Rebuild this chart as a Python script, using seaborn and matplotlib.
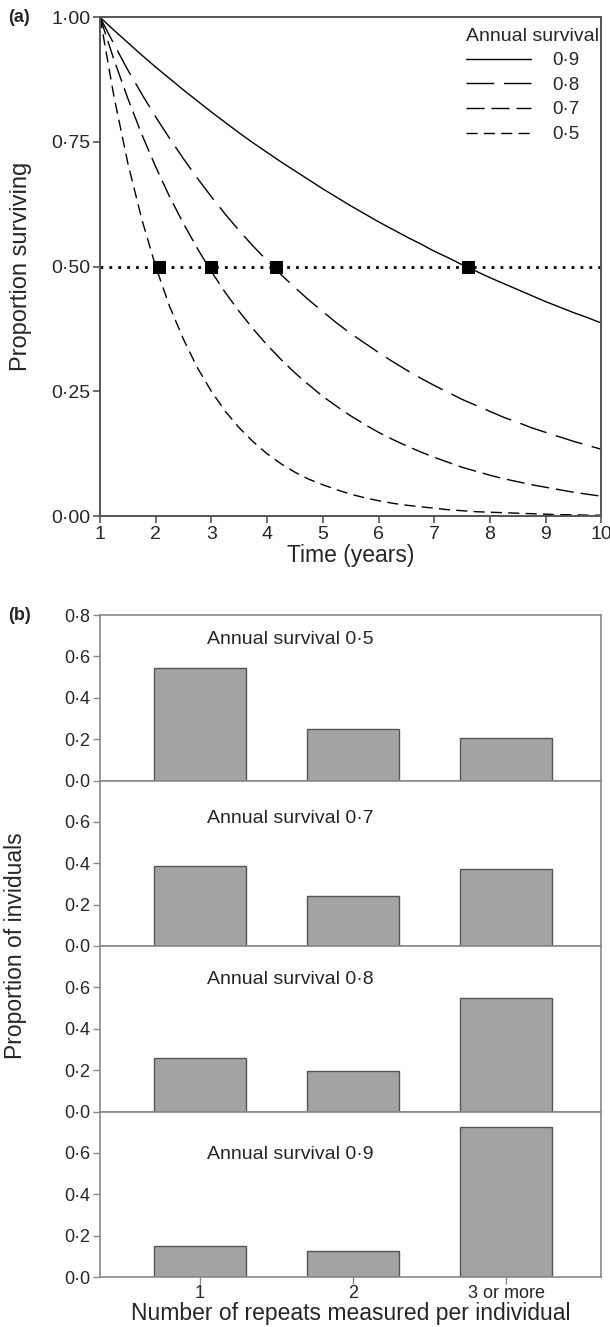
import seaborn as sns
import matplotlib.pyplot as plt
from matplotlib.ticker import FuncFormatter

# ---- panel (a): proportion surviving, read at quarter-year steps ----
years = [1.0, 1.25, 1.5, 1.75, 2.0, 2.25, 2.5, 2.75, 3.0, 3.25,
         3.5, 3.75, 4.0, 4.25, 4.5, 4.75, 5.0, 5.25, 5.5, 5.75,
         6.0, 6.25, 6.5, 6.75, 7.0, 7.25, 7.5, 7.75, 8.0, 8.25,
         8.5, 8.75, 9.0, 9.25, 9.5, 9.75, 10.0]
surv_09 = [1.000, 0.974, 0.949, 0.924, 0.900, 0.877, 0.854, 0.832, 0.810, 0.789,
           0.768, 0.748, 0.729, 0.710, 0.692, 0.674, 0.656, 0.639, 0.622, 0.606,
           0.590, 0.575, 0.560, 0.546, 0.531, 0.518, 0.504, 0.491, 0.478, 0.466,
           0.454, 0.442, 0.430, 0.419, 0.408, 0.398, 0.387]
surv_08 = [1.000, 0.946, 0.894, 0.846, 0.800, 0.757, 0.716, 0.677, 0.640, 0.605,
           0.572, 0.541, 0.512, 0.484, 0.458, 0.433, 0.410, 0.387, 0.366, 0.347,
           0.328, 0.310, 0.293, 0.277, 0.262, 0.248, 0.234, 0.222, 0.210, 0.198,
           0.188, 0.177, 0.168, 0.159, 0.150, 0.142, 0.134]
surv_07 = [1.000, 0.915, 0.837, 0.765, 0.700, 0.640, 0.586, 0.536, 0.490, 0.448,
           0.410, 0.375, 0.343, 0.314, 0.287, 0.263, 0.240, 0.220, 0.201, 0.184,
           0.168, 0.154, 0.141, 0.129, 0.118, 0.108, 0.098, 0.090, 0.082, 0.075,
           0.069, 0.063, 0.058, 0.053, 0.048, 0.044, 0.040]
surv_05 = [1.000, 0.841, 0.707, 0.595, 0.500, 0.420, 0.354, 0.297, 0.250, 0.210,
           0.177, 0.149, 0.125, 0.105, 0.088, 0.074, 0.063, 0.053, 0.044, 0.037,
           0.031, 0.026, 0.022, 0.019, 0.016, 0.013, 0.011, 0.009, 0.008, 0.007,
           0.006, 0.005, 0.004, 0.003, 0.003, 0.002, 0.002]
half_x = [2.05, 3.0, 4.15, 7.6]
half_y = [0.5, 0.5, 0.5, 0.5]

# ---- panel (b): proportion of individuals by number of repeats ----
repeats = ["1", "2", "3 or more"]
prop_05 = [0.545, 0.247, 0.205]
prop_07 = [0.387, 0.240, 0.372]
prop_08 = [0.258, 0.195, 0.550]
prop_09 = [0.150, 0.128, 0.726]

sns.set_style("ticks")
plt.rcParams["font.family"] = ["Liberation Sans", "DejaVu Sans"]

fig = plt.figure(figsize=(6.1, 13.27), dpi=100)


def dot_fmt(nd):
    return FuncFormatter(lambda v, p: f"{v:.{nd}f}".replace(".", "\u00b7"))


# panel (a)
ax = fig.add_axes([0.164, 0.611, 0.822, 0.376])
curves = [(surv_09, "-", "0\u00b79"),
          (surv_08, (0, (20, 7)), "0\u00b78"),
          (surv_07, (0, (13, 5)), "0\u00b77"),
          (surv_05, (0, (8, 4.5)), "0\u00b75")]
for vals, ls, lab in curves:
    sns.lineplot(x=years, y=vals, ax=ax, color="black", linewidth=1.0,
                 linestyle=ls, label=lab, sort=False)
ax.axhline(0.5, color="black", linestyle=(0, (1, 2.2)), linewidth=2.0, zorder=2)
sns.scatterplot(x=half_x, y=half_y, ax=ax, marker="s", color="black",
                s=80, edgecolor="black", zorder=5, legend=False)
ax.set_xlim(1, 10)
ax.set_ylim(0, 1)
ax.set_xticks(range(1, 11))
ax.set_yticks([0, 0.25, 0.5, 0.75, 1.0])
ax.yaxis.set_major_formatter(dot_fmt(2))
ax.tick_params(labelsize=14, length=5, color="#555555", width=1.2, pad=2)
ax.set_xlabel("Time (years)", fontsize=16.5, labelpad=1)
ax.set_ylabel("Proportion surviving", fontsize=17, labelpad=14)
for sp in ax.spines.values():
    sp.set_color("#555555")
    sp.set_linewidth(1.4)
leg = ax.legend(title="Annual survival", loc="upper right",
                bbox_to_anchor=(1.016, 1.0), frameon=False, fontsize=13.5,
                title_fontsize=14, handlelength=3.48, handletextpad=1.1,
                labelspacing=0.4, borderaxespad=0.15)
leg._legend_box.align = "left"
fig.text(0.013, 0.987, "(a)", fontsize=13, fontweight="bold", va="center")

# panel (b)
panels = [(prop_05, "Annual survival 0\u00b75", 0.85),
          (prop_07, "Annual survival 0\u00b77", 0.77),
          (prop_08, "Annual survival 0\u00b78", 0.80),
          (prop_09, "Annual survival 0\u00b79", 0.74)]
top = 1 - 615 / 1327
h = 165.5 / 1327
axes_b = []
for i, (vals, title, ty) in enumerate(panels):
    axb = fig.add_axes([0.164, top - (i + 1) * h, 0.822, h])
    sns.barplot(x=repeats, y=vals, ax=axb, color="#a3a3a3", saturation=1,
                edgecolor="#555555", linewidth=1.0, width=0.6)
    axb.set_xlim(-0.65, 2.62)
    axb.set_ylim(0, 0.8)
    if i == 0:
        axb.set_yticks([0, 0.2, 0.4, 0.6, 0.8])
    else:
        axb.set_yticks([0, 0.2, 0.4, 0.6])
    axb.yaxis.set_major_formatter(dot_fmt(1))
    axb.tick_params(labelsize=13, length=5, color="#888888", width=1.0, pad=2)
    axb.set_ylabel("")
    axb.set_xlabel("")
    if i < 3:
        axb.tick_params(axis="x", labelbottom=False, length=3)
    for sp in axb.spines.values():
        sp.set_color("#888888")
        sp.set_linewidth(1.2)
    axb.text(0.38, ty, title, transform=axb.transAxes, ha="center",
             va="center", fontsize=14)
    axes_b.append(axb)

axes_b[-1].tick_params(axis="x", pad=1)
axes_b[-1].set_xlabel("Number of repeats measured per individual",
                      fontsize=16.5, labelpad=0)
fig.text(0.025, (top + top - 4 * h) / 2, "Proportion of inviduals",
         rotation=90, fontsize=16.5, ha="center", va="center")
fig.text(0.013, top, "(b)", fontsize=13, fontweight="bold", va="center")

plt.savefig("out.png", dpi=100)
